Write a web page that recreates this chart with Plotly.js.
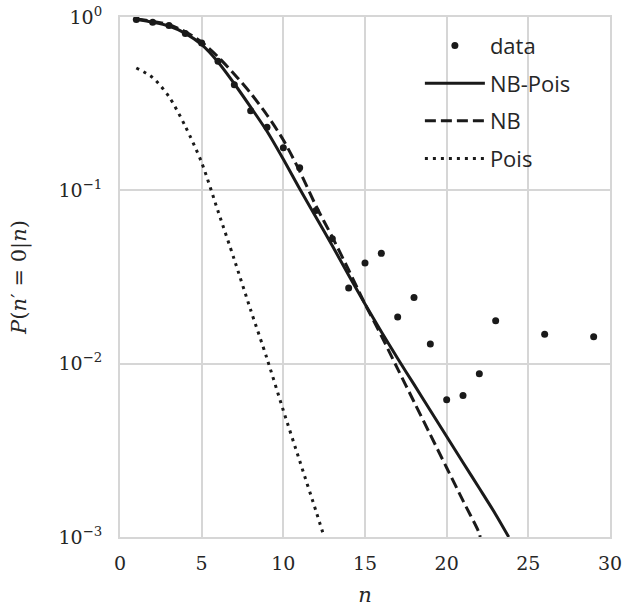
<!DOCTYPE html>
<html>
<head>
<meta charset="utf-8">
<script src="https://cdn.plot.ly/plotly-3.0.1.min.js"></script>
<style>html,body{margin:0;padding:0;background:#fff;}#chart{width:626px;height:616px;}</style>
</head>
<body>
<div id="chart"></div>
<script>
// observed data
const dataN = [1,2,3,4,5,6,7,8,9,10,11,12,13,14,15,16,17,18,19,20,21,22,23,26,29];
const dataP = [0.966,0.932,0.892,0.802,0.709,0.555,0.407,0.288,0.231,0.176,0.135,0.0765,0.0525,0.0273,0.0381,0.0433,0.0186,0.0241,0.0130,0.0062,0.00656,0.00875,0.0177,0.0148,0.0143];

// NB-Pois model (solid)
const nbPoisN = [1,2,3,4,5,6,7,8,9,10,11,12,13,14,15,16,17,18,19,20,21,22,23,23.8];
const nbPoisP = [0.966,0.933,0.887,0.804,0.692,0.550,0.412,0.302,0.219,0.151,0.102,0.0700,0.0479,0.0324,0.0221,0.0153,0.0107,0.00759,0.00537,0.00380,0.00269,0.00191,0.00135,0.00100];

// NB model (dashed)
const nbN = [1,2,3,4,5,6,7,8,9,10,11,12,13,14,15,16,17,18,19,20,21,22,22.05];
const nbP = [0.973,0.944,0.902,0.822,0.716,0.589,0.468,0.363,0.272,0.195,0.129,0.0813,0.0537,0.0347,0.0221,0.0145,0.00933,0.00603,0.00389,0.00251,0.00162,0.00105,0.00100];

// Pois model (dotted)
const poisN = [1,2,3,4,5,6,7,8,9,10,11,12,12.5];
const poisP = [0.508,0.447,0.347,0.234,0.1445,0.0759,0.0398,0.0204,0.0107,0.00537,0.00275,0.00141,0.00100];

const yTickVals = [1e-3, 1e-2, 1e-1, 1];
const yTickText = ['10<sup>\u22123</sup>','10<sup>\u22122</sup>','10<sup>\u22121</sup>','10<sup>0</sup>'];
const xTickVals = [0,5,10,15,20,25,30];

const ink = '#1a1a1a';
const traces = [
  {x: dataN, y: dataP, name: 'data', mode: 'markers', type: 'scatter',
   marker: {color: ink, size: 7}, legendgroup: 'a'},
  {x: nbPoisN, y: nbPoisP, name: 'NB-Pois', mode: 'lines', type: 'scatter',
   line: {color: ink, width: 3, shape: 'spline', smoothing: 0.8}, legendgroup: 'b'},
  {x: nbN, y: nbP, name: 'NB', mode: 'lines', type: 'scatter',
   line: {color: ink, width: 3, dash: '11px,5px', shape: 'spline', smoothing: 0.8}, legendgroup: 'c'},
  {x: poisN, y: poisP, name: 'Pois', mode: 'lines', type: 'scatter',
   line: {color: ink, width: 3, dash: '3px,5px', shape: 'spline', smoothing: 0.8}, legendgroup: 'd'}
];

const serif = 'DejaVu Serif';
const layout = {
  width: 626, height: 616,
  margin: {l: 120, r: 16, t: 17, b: 79},
  paper_bgcolor: '#fff', plot_bgcolor: '#fff',
  font: {family: serif, color: '#262626'},
  showlegend: true,
  legend: {x: 0.612, y: 0.985, xanchor: 'left', yanchor: 'top',
           bgcolor: 'rgba(255,255,255,0)', borderwidth: 0,
           font: {family: 'Open Sans', size: 22, color: '#262626'},
           tracegroupgap: 6, itemwidth: 60},
  xaxis: {range: [0, 30], tickvals: xTickVals, showgrid: true, gridcolor: '#d6d6d6', gridwidth: 2,
          zeroline: false, showline: true, linecolor: '#d6d6d6', linewidth: 2, mirror: true,
          ticks: 'outside', ticklen: 8, tickcolor: 'rgba(0,0,0,0)',
          tickfont: {family: serif, size: 19, color: '#262626'},
          title: {text: '<i>n</i>', font: {family: serif, size: 21, color: '#262626'}, standoff: 15}},
  yaxis: {type: 'log', range: [-3, 0], tickvals: yTickVals, ticktext: yTickText,
          showgrid: true, gridcolor: '#d6d6d6', gridwidth: 2,
          zeroline: false, showline: true, linecolor: '#d6d6d6', linewidth: 2, mirror: true,
          ticks: 'outside', ticklen: 12, tickcolor: 'rgba(0,0,0,0)',
          tickfont: {family: serif, size: 19, color: '#262626'},
          title: {text: '<i>P</i>(<i>n</i>\u2032 = 0|<i>n</i>)', font: {family: serif, size: 21, color: '#262626'}, standoff: 26}}
};

Plotly.newPlot('chart', traces, layout, {displayModeBar: false, staticPlot: true});
</script>
</body>
</html>
